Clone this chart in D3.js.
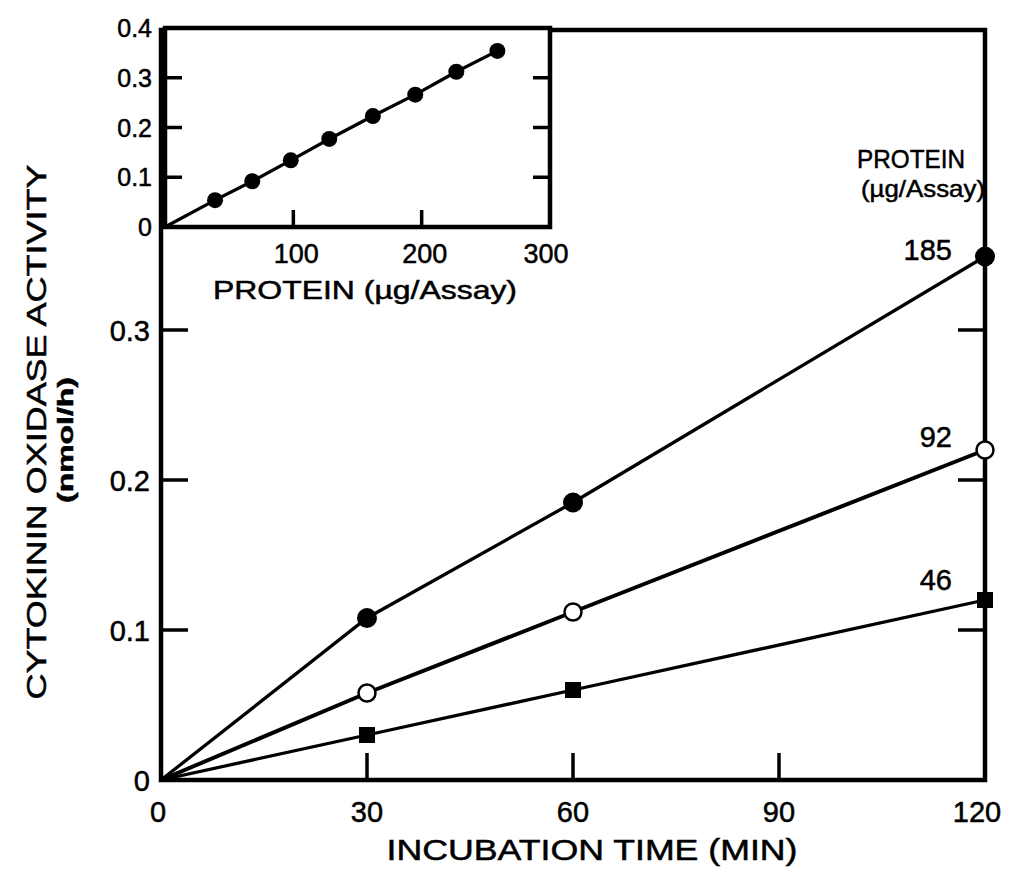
<!DOCTYPE html>
<html>
<head>
<meta charset="utf-8">
<script src="https://cdn.jsdelivr.net/npm/d3@7/dist/d3.min.js"></script>
<style>
  html, body { margin: 0; padding: 0; background: #fff; }
  svg text { font-family: "Liberation Sans", Arial, sans-serif; fill: #000; stroke: #000; stroke-width: 0.5px; }
</style>
</head>
<body>
<svg id="chart" width="1010" height="873"></svg>
<script>
// Incubation time course (main panel)
const times = [0, 30, 60, 120];
const act185 = [0, 0.108, 0.185, 0.349];
const act92 = [0, 0.058, 0.112, 0.220];
const act46 = [0, 0.030, 0.060, 0.120];
const seriesLabels = ["185", "92", "46"];

const timeTicks = [0, 30, 60, 90, 120];
const activityTicks = [0, 0.1, 0.2, 0.3];

// Protein dependence (inset)
const protein = [0, 39, 68, 98, 128, 162, 195, 227, 259];
const activityByProtein = [0, 0.054, 0.092, 0.134, 0.177, 0.223, 0.266, 0.312, 0.354];
const proteinTicks = [100, 200, 300];
const insetActivityTicks = [0, 0.1, 0.2, 0.3, 0.4];

const svg = d3.select("#chart");

// ---------- main panel ----------
const x = d3.scaleLinear().domain([0, 120]).range([161, 985]);
const y = d3.scaleLinear().domain([0, 0.5]).range([780, 30]);

const fmtAct = d => d === 0 ? "0" : d3.format(".1f")(d);

// frame
svg.append("rect")
  .attr("x", x(0)).attr("y", y(0.5))
  .attr("width", x(120) - x(0)).attr("height", y(0) - y(0.5))
  .attr("fill", "none").attr("stroke", "#000").attr("stroke-width", 4.5);

// inward ticks
const tickLen = 27;
svg.append("g").selectAll("line").data([30, 60, 90]).join("line")
  .attr("x1", d => x(d)).attr("x2", d => x(d))
  .attr("y1", y(0)).attr("y2", y(0) - tickLen)
  .attr("stroke", "#000").attr("stroke-width", 3.5);
svg.append("g").selectAll("line").data([0.1, 0.2, 0.3]).join("line")
  .attr("x1", x(0)).attr("x2", x(0) + tickLen)
  .attr("y1", d => y(d)).attr("y2", d => y(d))
  .attr("stroke", "#000").attr("stroke-width", 3.5);
svg.append("g").selectAll("line").data([0.1, 0.2, 0.3]).join("line")
  .attr("x1", x(120)).attr("x2", x(120) - tickLen)
  .attr("y1", d => y(d)).attr("y2", d => y(d))
  .attr("stroke", "#000").attr("stroke-width", 3.5);

// tick labels
svg.append("g").selectAll("text").data(timeTicks).join("text")
  .attr("x", d => x(d) + (d === 0 ? -3 : d === 120 ? -8 : 0))
  .attr("y", 822)
  .attr("text-anchor", "middle")
  .attr("font-size", 29)
  .text(d => d);
svg.append("g").selectAll("text").data(activityTicks).join("text")
  .attr("x", 150)
  .attr("y", d => y(d) + 11)
  .attr("text-anchor", "end")
  .attr("font-size", 29)
  .text(fmtAct);

// axis titles
svg.append("text")
  .attr("x", 592).attr("y", 860)
  .attr("text-anchor", "middle")
  .attr("font-size", 29)
  .attr("textLength", 411).attr("lengthAdjust", "spacingAndGlyphs")
  .text("INCUBATION  TIME  (MIN)");
svg.append("text")
  .attr("transform", "translate(46,432) rotate(-90)")
  .attr("text-anchor", "middle")
  .attr("font-size", 28)
  .attr("textLength", 535).attr("lengthAdjust", "spacingAndGlyphs")
  .text("CYTOKININ  OXIDASE  ACTIVITY");
svg.append("text")
  .attr("transform", "translate(73,440) rotate(-90)")
  .attr("text-anchor", "middle")
  .attr("font-size", 22)
  .attr("font-weight", "bold")
  .attr("textLength", 126).attr("lengthAdjust", "spacingAndGlyphs")
  .text("(nmol/h)");

// series lines and markers
const line = d3.line().x(d => x(d[0])).y(d => y(d[1]));
const series = [act185, act92, act46].map(vals => times.map((t, i) => [t, vals[i]]));
svg.append("g").selectAll("path").data(series).join("path")
  .attr("d", line)
  .attr("fill", "none").attr("stroke", "#000")
  .attr("stroke-width", (d, i) => i === 1 ? 4 : 3.3);

const pts = s => s.filter(d => d[0] > 0);
svg.append("g").selectAll("circle").data(pts(series[0])).join("circle")
  .attr("cx", d => x(d[0])).attr("cy", d => y(d[1])).attr("r", 10)
  .attr("fill", "#000");
svg.append("g").selectAll("circle").data(pts(series[1])).join("circle")
  .attr("cx", d => x(d[0])).attr("cy", d => y(d[1])).attr("r", 8.5)
  .attr("fill", "#fff").attr("stroke", "#000").attr("stroke-width", 2.5);
svg.append("g").selectAll("rect").data(pts(series[2])).join("rect")
  .attr("x", d => x(d[0]) - 8).attr("y", d => y(d[1]) - 8)
  .attr("width", 16).attr("height", 16)
  .attr("fill", "#000");

// series labels at the 120-min end
const labelDy = [3, -3, -10];
svg.append("g").selectAll("text").data(series).join("text")
  .attr("x", 952)
  .attr("y", (d, i) => y(d[3][1]) + labelDy[i])
  .attr("text-anchor", "end")
  .attr("font-size", 29)
  .text((d, i) => seriesLabels[i]);

svg.append("text")
  .attr("x", 911).attr("y", 168)
  .attr("text-anchor", "middle")
  .attr("font-size", 25)
  .attr("textLength", 108).attr("lengthAdjust", "spacingAndGlyphs")
  .text("PROTEIN");
svg.append("text")
  .attr("x", 923).attr("y", 197)
  .attr("text-anchor", "middle")
  .attr("font-size", 24)
  .attr("textLength", 124).attr("lengthAdjust", "spacingAndGlyphs")
  .text("(\u00b5g/Assay)");

// ---------- inset ----------
const xi = d3.scaleLinear().domain([0, 300]).range([165, 550]);
const yi = d3.scaleLinear().domain([0, 0.4]).range([227, 28]);

svg.append("rect")
  .attr("x", xi(0)).attr("y", yi(0.4))
  .attr("width", xi(300) - xi(0)).attr("height", yi(0) - yi(0.4))
  .attr("fill", "#fff").attr("stroke", "#000").attr("stroke-width", 4.5);

const tickI = 17;
svg.append("g").selectAll("line").data([100, 200]).join("line")
  .attr("x1", d => xi(d)).attr("x2", d => xi(d))
  .attr("y1", yi(0)).attr("y2", yi(0) - tickI)
  .attr("stroke", "#000").attr("stroke-width", 3.5);
svg.append("g").selectAll("line").data([0.1, 0.2, 0.3]).join("line")
  .attr("x1", xi(0)).attr("x2", xi(0) + tickI)
  .attr("y1", d => yi(d)).attr("y2", d => yi(d))
  .attr("stroke", "#000").attr("stroke-width", 3.5);
svg.append("g").selectAll("line").data([0.1, 0.2, 0.3]).join("line")
  .attr("x1", xi(300)).attr("x2", xi(300) - tickI)
  .attr("y1", d => yi(d)).attr("y2", d => yi(d))
  .attr("stroke", "#000").attr("stroke-width", 3.5);

svg.append("g").selectAll("text").data(proteinTicks).join("text")
  .attr("x", d => xi(d) + (d === 300 ? -4 : 3)).attr("y", 263)
  .attr("text-anchor", "middle")
  .attr("font-size", 27)
  .text(d => d);
svg.append("g").selectAll("text").data(insetActivityTicks).join("text")
  .attr("x", 152).attr("y", d => yi(d) + 9)
  .attr("text-anchor", "end")
  .attr("font-size", 25)
  .text(fmtAct);

svg.append("text")
  .attr("x", 365).attr("y", 299)
  .attr("text-anchor", "middle")
  .attr("font-size", 25)
  .attr("textLength", 304).attr("lengthAdjust", "spacingAndGlyphs")
  .text("PROTEIN  (\u00b5g/Assay)");

const insetData = protein.map((p, i) => [p, activityByProtein[i]]);
svg.append("path")
  .attr("d", d3.line().x(d => xi(d[0])).y(d => yi(d[1]))(insetData))
  .attr("fill", "none").attr("stroke", "#000").attr("stroke-width", 3.3);
svg.append("g").selectAll("circle").data(insetData.filter(d => d[0] > 0)).join("circle")
  .attr("cx", d => xi(d[0])).attr("cy", d => yi(d[1])).attr("r", 8)
  .attr("fill", "#000");
</script>
</body>
</html>
